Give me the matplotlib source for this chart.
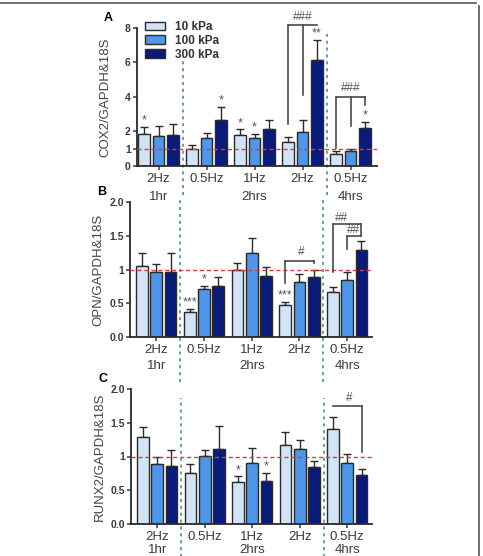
import matplotlib.pyplot as plt
from matplotlib.lines import Line2D
from matplotlib.patches import Patch
import matplotlib.transforms as mtransforms
import numpy as np

plt.rcParams['font.family'] = ['Liberation Sans', 'DejaVu Sans']

freq_labels = ['2Hz', '0.5Hz', '1Hz', '2Hz', '0.5Hz']
dur_labels = ['1hr', '2hrs', '4hrs']
dur_pos = [0, 2, 4]
stiffness = ['10 kPa', '100 kPa', '300 kPa']
colors = ['#d3e3f6', '#4f95e8', '#0a1a78']

# COX2 (panel A): rows = stiffness, columns = groups
cox2_mean = [[1.88, 1.01, 1.77, 1.38, 0.70],
             [1.75, 1.65, 1.65, 1.96, 0.87],
             [1.77, 2.64, 2.16, 6.17, 2.21]]
cox2_top = [[2.27, 1.22, 2.12, 1.67, 0.87],
            [2.29, 1.94, 1.88, 2.66, 0.99],
            [2.41, 3.44, 2.68, 7.32, 2.54]]
cox2_stars = [(0, 0, '*'), (2, 1, '*'), (0, 2, '*'), (1, 2, '*'), (2, 3, '**'), (2, 4, '*')]

# OPN (panel B)
opn_mean = [[1.05, 0.37, 0.99, 0.47, 0.67],
            [0.97, 0.71, 1.24, 0.81, 0.85],
            [0.97, 0.76, 0.90, 0.89, 1.29]]
opn_top = [[1.24, 0.42, 1.10, 0.52, 0.74],
           [1.08, 0.76, 1.47, 0.93, 0.97],
           [1.24, 0.89, 1.03, 1.00, 1.42]]
opn_stars = [(0, 1, '***'), (1, 1, '*'), (0, 3, '***')]

# RUNX2 (panel C)
runx2_mean = [[1.29, 0.76, 0.62, 1.17, 1.41],
              [0.89, 1.01, 0.90, 1.11, 0.90],
              [0.86, 1.11, 0.64, 0.84, 0.72]]
runx2_top = [[1.43, 0.89, 0.71, 1.37, 1.59],
             [0.99, 1.09, 1.13, 1.24, 1.03],
             [1.10, 1.45, 0.76, 0.94, 0.81]]
runx2_stars = [(0, 2, '*'), (2, 2, '*')]

W, H = 483, 556
fig = plt.figure(figsize=(W / 100, H / 100), dpi=100)

text_col = '#3a3a3a'
line_col = '#4a4a4a'
sep_col = '#3f8a78'
ref_col = '#d8403c'
bar_w = 0.245
pitch = 0.3


def px_axes(left, right, top, bottom):
    return fig.add_axes([left / W, 1 - bottom / H, (right - left) / W, (bottom - top) / H])


def draw_panel(ax, mean, top, stars, ylim, yticks, yticklabels, ylabel, letter,
               xlim, star_off, sep_ranges, dur_y=-0.215):
    x = np.arange(len(freq_labels))
    for i in range(3):
        xs = x + (i - 1) * pitch
        m = np.array(mean[i])
        err = np.array(top[i]) - m
        ax.bar(xs, m, width=bar_w, color=colors[i], edgecolor='#2a2a2a', linewidth=1.0, zorder=2)
        ax.errorbar(xs, m, yerr=[np.zeros_like(err), err], fmt='none', ecolor='#2a2a2a',
                    elinewidth=1.0, capsize=3, capthick=1.0, zorder=1)
    for i, g, s in stars:
        ax.text(g + (i - 1) * pitch, top[i][g] + star_off, s, ha='center', va='bottom',
                fontsize=9, color='#555555')
    ax.axhline(1, color=ref_col, ls=(0, (3, 2)), lw=1.0, zorder=3)
    trans = mtransforms.blended_transform_factory(ax.transData, ax.transAxes)
    for xs, (y0, y1) in zip([0.5, 3.5], sep_ranges):
        ax.plot([xs, xs], [y0, y1], transform=trans, color=sep_col, ls=(0, (2, 2.5)),
                lw=1.1, clip_on=False, zorder=0)
    ax.set_xlim(*xlim)
    ax.set_ylim(*ylim)
    ax.set_yticks(yticks)
    ax.set_yticklabels(yticklabels, fontweight='bold')
    ax.set_xticks(x)
    ax.set_xticklabels(freq_labels, fontsize=9.5, color=text_col)
    ax.tick_params(axis='y', labelsize=7.5, colors=text_col, length=3, width=1.1, pad=1.5)
    ax.tick_params(axis='x', length=3, width=1.1, colors=text_col, pad=2)
    for t in ax.get_xticklabels():
        t.set_color(text_col)
    for sp in ['top', 'right']:
        ax.spines[sp].set_visible(False)
    for sp in ['left', 'bottom']:
        ax.spines[sp].set_linewidth(1.3)
        ax.spines[sp].set_color('#2a2a2a')
    ax.set_ylabel(ylabel, fontsize=9.5, color='#444444')
    ax.yaxis.set_label_coords(-0.105, 0.5)
    for p, lab in zip(dur_pos, dur_labels):
        ax.text(p, dur_y, lab, transform=trans, ha='center', va='center',
                fontsize=9.5, color=text_col)
    ax.text(-0.118, 1.075, letter, transform=ax.transAxes, fontsize=9, fontweight='bold',
            ha='center', va='center')


def bracket(ax, segs, labels):
    for (x0, y0), (x1, y1) in segs:
        ax.plot([x0, x1], [y0, y1], color=line_col, lw=1.2, clip_on=False, zorder=4)
    for xt, yt, s in labels:
        ax.text(xt, yt, s, ha='center', va='center', fontsize=8.5, color='#555555')


# Panel A
axA = px_axes(137, 377, 28, 166)
draw_panel(axA, cox2_mean, cox2_top, cox2_stars, (0, 8), [0, 1, 2, 4, 6, 8],
           ['0', '1', '2', '4', '6', '8'], 'COX2/GAPDH&18S', 'A', (-0.45, 4.55), 0.02,
           [(-0.21, 0.79), (-0.21, 0.96)], dur_y=-0.225)
bracket(axA,
        [((2.7, 2.42), (2.7, 8.17)), ((2.7, 8.17), (3.3, 8.17)), ((3.0, 8.17), (3.0, 4.12)),
         ((3.7, 1.02), (3.7, 4.02)), ((3.7, 4.02), (4.3, 4.02)), ((4.0, 4.02), (4.0, 2.32)),
         ((4.3, 4.02), (4.3, 3.54))],
        [(3.0, 8.66, '###'), (4.0, 4.5, '###')])
handles = [Patch(facecolor=c, edgecolor='#2a2a2a', linewidth=1.0) for c in colors]
leg = axA.legend(handles, stiffness, loc='upper left', bbox_to_anchor=(0.0, 1.11),
                 frameon=False, prop={'weight': 'bold', 'size': 8.5}, handlelength=1.7,
                 handleheight=0.75, labelspacing=0.15, borderpad=0.2, handletextpad=0.8)
for t in leg.get_texts():
    t.set_color('#333333')

# Panel B
axB = px_axes(130, 372, 202, 337)
draw_panel(axB, opn_mean, opn_top, opn_stars, (0, 2), [0, 0.5, 1, 1.5, 2],
           ['0.0', '0.5', '1', '1.5', '2.0'], 'OPN/GAPDH&18S', 'B', (-0.55, 4.52), 0.0,
           [(-0.33, 1.02), (-0.33, 1.02)])
bracket(axB,
        [((2.7, 0.80), (2.7, 1.13)), ((2.7, 1.13), (3.3, 1.13)), ((3.3, 1.13), (3.3, 1.09)),
         ((3.7, 0.97), (3.7, 1.68)), ((3.7, 1.68), (4.3, 1.68)), ((4.3, 1.68), (4.3, 1.49)),
         ((4.0, 1.31), (4.0, 1.49)), ((4.0, 1.49), (4.3, 1.49))],
        [(3.04, 1.26, '#'), (3.88, 1.77, '##'), (4.13, 1.58, '##')])

# Panel C
axC = px_axes(131, 372, 389, 524)
draw_panel(axC, runx2_mean, runx2_top, runx2_stars, (0, 2), [0, 0.5, 1, 1.5, 2],
           ['0.0', '0.5', '1', '1.5', '2.0'], 'RUNX2/GAPDH&18S', 'C', (-0.55, 4.52), 0.0,
           [(-0.3, 0.93), (-0.3, 0.93)], dur_y=-0.19)
bracket(axC,
        [((3.7, 1.75), (4.3, 1.75)), ((4.3, 1.75), (4.3, 1.06))],
        [(4.03, 1.86, '#')])

# page frame
fig.add_artist(Line2D([0, 476 / W], [1 - 3 / H, 1 - 3 / H], color='#555555', lw=1.2))
fig.add_artist(Line2D([479 / W, 479 / W], [1 - 6 / H, 0], color='#555555', lw=1.2))

fig.savefig('out.png', dpi=100)
